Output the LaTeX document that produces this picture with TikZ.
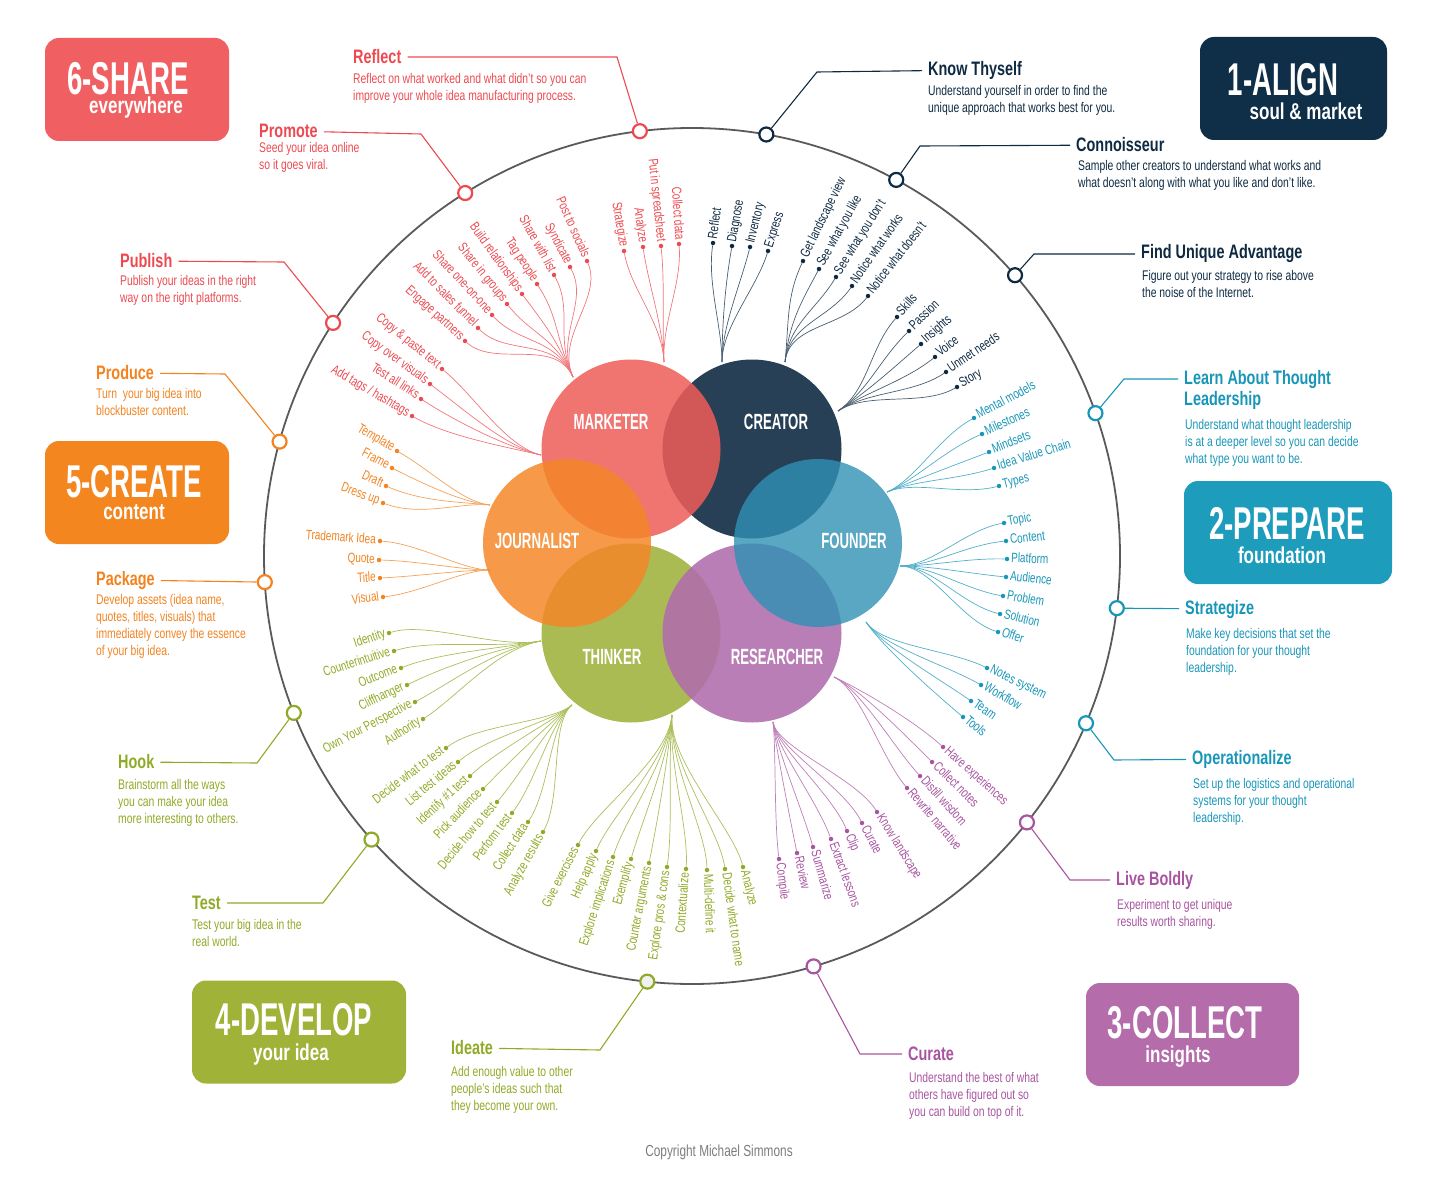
\documentclass[tikz,border=0pt]{standalone}
\usepackage{fontspec}
\setmainfont{Liberation Sans}[FakeStretch=0.74]
\newfontfamily\capsfont{Liberation Sans}[FakeStretch=0.6]
\usepackage{tikz}
\usetikzlibrary{calc}
\definecolor{redink}{RGB}{236,74,80}
\definecolor{navyink}{RGB}{14,42,66}
\definecolor{tealink}{RGB}{24,150,184}
\definecolor{purpleink}{RGB}{168,84,160}
\definecolor{greenink}{RGB}{143,170,38}
\definecolor{orangeink}{RGB}{242,131,32}
\definecolor{sharefill}{RGB}{240,96,98}
\definecolor{alignfill}{RGB}{14,47,71}
\definecolor{preparefill}{RGB}{30,156,188}
\definecolor{collectfill}{RGB}{180,108,170}
\definecolor{developfill}{RGB}{160,178,56}
\definecolor{createfill}{RGB}{244,134,32}
\definecolor{mkthub}{RGB}{238,93,89}
\definecolor{crthub}{RGB}{40,64,86}
\definecolor{jrnhub}{RGB}{244,135,40}
\definecolor{fndhub}{RGB}{47,145,180}
\definecolor{thkhub}{RGB}{169,187,82}
\definecolor{rschub}{RGB}{177,108,173}
\definecolor{ringgrey}{RGB}{90,90,90}
\definecolor{copygrey}{RGB}{125,125,125}

\begin{document}
\begin{tikzpicture}[x=1pt, y=-1pt,
  ring/.style={draw=ringgrey, line width=1.8pt},
  calldot/.style={circle, draw=#1, line width=2.2pt, fill=white, minimum size=14pt, inner sep=0pt},
  callline/.style={draw=#1, line width=1.1pt, shorten >=6pt},
  calltitle/.style={text=#1, font=\bfseries\fontsize{19.5}{21}\selectfont, inner sep=0pt},
  calldesc/.style={text=#1, font=\fontsize{14}{17}\selectfont, align=left, inner sep=0pt, anchor=north west},
  leafdot/.style={circle, fill=#1, minimum size=4.5pt, inner sep=0pt},
  leaflbl/.style={text=#1, font=\fontsize{13.5}{15}\selectfont, inner xsep=4pt, inner ysep=0pt, text height=9pt, text depth=2.5pt},
  twig/.style={draw=#1!75, line width=0.7pt},
  hub/.style={circle, fill=#1, minimum size=179pt, inner sep=0pt},
  hublbl/.style={text=white, font=\capsfont\bfseries\fontsize{22}{24}\selectfont},
  stagebox/.style={fill=#1, rounded corners=14pt, minimum height=103pt, inner sep=0pt},
  stagebig/.style={text=white, font=\capsfont\bfseries\fontsize{46}{46}\selectfont, inner sep=0pt},
  stagesub/.style={text=white, font=\bfseries\fontsize{23}{24}\selectfont, inner sep=0pt}
]
\useasboundingbox (0,0) rectangle (1456,1177);
\coordinate (ctr) at (692,556);
\draw[ring] (ctr) circle (428pt);

\node[stagebox=sharefill, minimum width=184pt] (share) at (137,89.5) {};
\node[stagebig] (sharebig) at (128,79) {6-SHARE};
\node[stagesub] (sharesub) at (136,108) {everywhere};
\node[stagebox=alignfill, minimum width=187pt] (align) at (1293.5,88.5) {};
\node[stagebig] (alignbig) at (1283,80) {1-ALIGN};
\node[stagesub] (alignsub) at (1306,111) {soul \& market};
\node[stagebox=createfill, minimum width=184pt] (create) at (137,492.5) {};
\node[stagebig] (createbig) at (134,482) {5-CREATE};
\node[stagesub] (createsub) at (134,512) {content};
\node[stagebox=preparefill, minimum width=208pt] (prepare) at (1288,532.5) {};
\node[stagebig] (preparebig) at (1287,523) {2-PREPARE};
\node[stagesub] (preparesub) at (1282,555) {foundation};
\node[stagebox=developfill, minimum width=214pt] (develop) at (299,1032) {};
\node[stagebig] (developbig) at (294,1020) {4-DEVELOP};
\node[stagesub] (developsub) at (291,1055) {your idea};
\node[stagebox=collectfill, minimum width=213pt] (collect) at (1192.5,1034.5) {};
\node[stagebig] (collectbig) at (1185,1023) {3-COLLECT};
\node[stagesub] (collectsub) at (1178,1057) {insights};

\node[calldot=redink] (rfdot) at ($(ctr)+(-97:428)$) {};
\coordinate (rfbend) at (617,57);
\node[calltitle=redink, anchor=west] (rf) at (353,57) {Reflect};
\node[calldesc=redink] (rfd) at (353,73) {Reflect on what worked and what didn’t so you can\\improve your whole idea manufacturing process.};
\draw[callline=redink] (rfdot) -- (rfbend) -- (rf);
\node[calldot=redink] (prdot) at ($(ctr)+(-122:428)$) {};
\coordinate (prbend) at (421,134);
\node[calltitle=redink, anchor=west] (pr) at (259,131) {Promote};
\node[calldesc=redink] (prd) at (259,142) {Seed your idea online\\so it goes viral.};
\draw[callline=redink] (prdot) -- (prbend) -- (pr);
\node[calldot=redink] (pbdot) at ($(ctr)+(-147:428)$) {};
\coordinate (pbbend) at (284,262);
\node[calltitle=redink, anchor=west] (pb) at (120,261) {Publish};
\node[calldesc=redink] (pbd) at (120,275) {Publish your ideas in the right\\way on the right platforms.};
\draw[callline=redink] (pbdot) -- (pbbend) -- (pb);
\node[calldot=orangeink] (pddot) at ($(ctr)+(-164.5:428)$) {};
\coordinate (pdbend) at (225,374);
\node[calltitle=orangeink, anchor=west] (pd) at (96,373) {Produce};
\node[calldesc=orangeink] (pdd) at (96,388) {Turn\ \ your big idea into\\blockbuster content.};
\draw[callline=orangeink] (pddot) -- (pdbend) -- (pd);
\node[calldot=orangeink] (pkdot) at ($(ctr)+(-183.5:428)$) {};
\node[calltitle=orangeink, anchor=west] (pk) at (96,580) {Package};
\node[calldesc=orangeink] (pkd) at (96,594) {Develop assets (idea name,\\quotes, titles, visuals) that\\immediately convey the essence\\of your big idea.};
\draw[callline=orangeink] (pkdot) -- (pk);
\node[calldot=greenink] (hkdot) at ($(ctr)+(-201.5:428)$) {};
\coordinate (hkbend) at (257,763);
\node[calltitle=greenink, anchor=west] (hk) at (118,762) {Hook};
\node[calldesc=greenink] (hkd) at (118,779) {Brainstorm all the ways\\you can make your idea\\more interesting to others.};
\draw[callline=greenink] (hkdot) -- (hkbend) -- (hk);
\node[calldot=greenink] (tsdot) at ($(ctr)+(-221.5:428)$) {};
\coordinate (tsbend) at (323,903);
\node[calltitle=greenink, anchor=west] (ts) at (192,903) {Test};
\node[calldesc=greenink] (tsd) at (192,919) {Test your big idea in the\\real world.};
\draw[callline=greenink] (tsdot) -- (tsbend) -- (ts);
\node[calldot=greenink, fill=black!6] (iddot) at ($(ctr)+(-264:428)$) {};
\coordinate (idbend) at (600,1050);
\node[calltitle=greenink, anchor=west] (id) at (451,1048) {Ideate};
\node[calldesc=greenink] (idd) at (451,1066) {Add enough value to other\\people’s ideas such that\\they become your own.};
\draw[callline=greenink] (iddot) -- (idbend) -- (id);
\node[calldot=purpleink] (cudot) at ($(ctr)+(-286.5:428)$) {};
\coordinate (cubend) at (860,1054);
\node[calltitle=purpleink, anchor=west] (cu) at (908,1054) {Curate};
\node[calldesc=purpleink] (cud) at (909,1072) {Understand the best of what\\others have figured out so\\you can build on top of it.};
\draw[callline=purpleink] (cudot) -- (cubend) -- (cu);
\node[calldot=purpleink] (lbdot) at ($(ctr)+(-321.5:428)$) {};
\coordinate (lbbend) at (1070,880);
\node[calltitle=purpleink, anchor=west] (lb) at (1116,880) {Live Boldly};
\node[calldesc=purpleink] (lbd) at (1117,899) {Experiment to get unique\\results worth sharing.};
\draw[callline=purpleink] (lbdot) -- (lbbend) -- (lb);
\node[calldot=tealink] (opdot) at ($(ctr)+(-337:428)$) {};
\coordinate (opbend) at (1114,760);
\node[calltitle=tealink, anchor=west] (op) at (1192,759) {Operationalize};
\node[calldesc=tealink] (opd) at (1193,778) {Set up the logistics and operational\\systems for your thought\\leadership.};
\draw[callline=tealink] (opdot) -- (opbend) -- (op);
\node[calldot=tealink] (sgdot) at ($(ctr)+(-353:428)$) {};
\node[calltitle=tealink, anchor=west] (sg) at (1185,609) {Strategize};
\node[calldesc=tealink] (sgd) at (1186,628) {Make key decisions that set the\\foundation for your thought\\leadership.};
\draw[callline=tealink] (sgdot) -- (sg);
\node[calldot=tealink] (ladot) at ($(ctr)+(-19.5:428)$) {};
\coordinate (labend) at (1124,379);
\node[calltitle=tealink, anchor=west] (la) at (1184,379) {Learn About Thought};
\node[calltitle=tealink, anchor=west] (la2) at (1184,400) {Leadership};
\node[calldesc=tealink] (lad) at (1185,419) {Understand what thought leadership\\is at a deeper level so you can decide\\what type you want to be.};
\draw[callline=tealink] (ladot) -- (labend) -- (la);
\node[calldot=navyink] (fudot) at ($(ctr)+(-41:428)$) {};
\coordinate (fubend) at (1034,254);
\node[calltitle=navyink, anchor=west] (fu) at (1141,254) {Find Unique Advantage};
\node[calldesc=navyink] (fud) at (1142,270) {Figure out your strategy to rise above\\the noise of the Internet.};
\draw[callline=navyink] (fudot) -- (fubend) -- (fu);
\node[calldot=navyink] (cndot) at ($(ctr)+(-61.5:428)$) {};
\coordinate (cnbend) at (920,146);
\node[calltitle=navyink, anchor=west] (cn) at (1076,145) {Connoisseur};
\node[calldesc=navyink] (cnd) at (1078,160) {Sample other creators to understand what works and\\what doesn’t along with what you like and don’t like.};
\draw[callline=navyink] (cndot) -- (cnbend) -- (cn);
\node[calldot=navyink] (ktdot) at ($(ctr)+(-80:428)$) {};
\coordinate (ktbend) at (817,72);
\node[calltitle=navyink, anchor=west] (kt) at (928,70) {Know Thyself};
\node[calldesc=navyink] (ktd) at (928,85) {Understand yourself in order to find the\\unique approach that works best for you.};
\draw[callline=navyink] (ktdot) -- (ktbend) -- (kt);

\coordinate (rA) at (573,377);
\node[leafdot=redink] (a1) at (587,261) {};
\node[leaflbl=redink, rotate=-66, anchor=east] (a1t) at (a1) {Post to socials};
\draw[twig=redink] (rA) .. controls +(-18,-40) and +(16,37) .. (a1);
\node[leafdot=redink] (a2) at (570,267) {};
\node[leaflbl=redink, rotate=-62, anchor=east] (a2t) at (a2) {Syndicate};
\draw[twig=redink] (rA) .. controls +(-18,-40) and +(19,35) .. (a2);
\node[leafdot=redink] (a3) at (554,275) {};
\node[leaflbl=redink, rotate=-61, anchor=east] (a3t) at (a3) {Share with list};
\draw[twig=redink] (rA) .. controls +(-18,-40) and +(19,35) .. (a3);
\node[leafdot=redink] (a4) at (537,284) {};
\node[leaflbl=redink, rotate=-57, anchor=east] (a4t) at (a4) {Tag people};
\draw[twig=redink] (rA) .. controls +(-18,-40) and +(22,34) .. (a4);
\node[leafdot=redink] (a5) at (522,294) {};
\node[leaflbl=redink, rotate=-54, anchor=east] (a5t) at (a5) {Build relationships};
\draw[twig=redink] (rA) .. controls +(-18,-40) and +(24,32) .. (a5);
\node[leafdot=redink] (a6) at (507,304) {};
\node[leaflbl=redink, rotate=-51, anchor=east] (a6t) at (a6) {Share in groups};
\draw[twig=redink] (rA) .. controls +(-18,-40) and +(25,31) .. (a6);
\node[leafdot=redink] (a7) at (492,315) {};
\node[leaflbl=redink, rotate=-47, anchor=east] (a7t) at (a7) {Share one-on-one};
\draw[twig=redink] (rA) .. controls +(-18,-40) and +(27,29) .. (a7);
\node[leafdot=redink] (a8) at (478,328) {};
\node[leaflbl=redink, rotate=-45, anchor=east] (a8t) at (a8) {Add to sales funnel};
\draw[twig=redink] (rA) .. controls +(-18,-40) and +(28,28) .. (a8);
\node[leafdot=redink] (a9) at (465,341) {};
\node[leaflbl=redink, rotate=-42, anchor=east] (a9t) at (a9) {Engage partners};
\draw[twig=redink] (rA) .. controls +(-18,-40) and +(30,27) .. (a9);

\coordinate (rB) at (664,362);
\node[leafdot=redink] (b1) at (624,251) {};
\node[leaflbl=redink, rotate=-80, anchor=east] (b1t) at (b1) {Strategize};
\draw[twig=redink] (rB) .. controls +(-2,-40) and +(7,39) .. (b1);
\node[leafdot=redink] (b2) at (643,247) {};
\node[leaflbl=redink, rotate=-82, anchor=east] (b2t) at (b2) {Analyze};
\draw[twig=redink] (rB) .. controls +(-2,-40) and +(6,40) .. (b2);
\node[leafdot=redink] (b3) at (661,246) {};
\node[leaflbl=redink, rotate=-84, anchor=east] (b3t) at (b3) {Put in spreadsheet};
\draw[twig=redink] (rB) .. controls +(-2,-40) and +(4,40) .. (b3);
\node[leafdot=redink] (b4) at (679,244) {};
\node[leaflbl=redink, rotate=-86, anchor=east] (b4t) at (b4) {Collect data};
\draw[twig=redink] (rB) .. controls +(-2,-40) and +(3,40) .. (b4);

\coordinate (rC) at (541,455);
\node[leafdot=redink] (c1) at (442,369) {};
\node[leaflbl=redink, rotate=-39, anchor=east] (c1t) at (c1) {Copy \& paste text};
\draw[twig=redink] (rC) .. controls +(-35,-8) and +(31,25) .. (c1);
\node[leafdot=redink] (c2) at (430,384) {};
\node[leaflbl=redink, rotate=-36, anchor=east] (c2t) at (c2) {Copy over visuals};
\draw[twig=redink] (rC) .. controls +(-35,-8) and +(32,24) .. (c2);
\node[leafdot=redink] (c3) at (421,399) {};
\node[leaflbl=redink, rotate=-33, anchor=east] (c3t) at (c3) {Test all links};
\draw[twig=redink] (rC) .. controls +(-35,-8) and +(34,22) .. (c3);
\node[leafdot=redink] (c4) at (412,416) {};
\node[leaflbl=redink, rotate=-30, anchor=east] (c4t) at (c4) {Add tags / hashtags};
\draw[twig=redink] (rC) .. controls +(-35,-8) and +(35,20) .. (c4);

\coordinate (rD) at (722,362);
\node[leafdot=navyink] (d1) at (713,243) {};
\node[leaflbl=navyink, rotate=82, anchor=west] (d1t) at (d1) {Reflect};
\draw[twig=navyink] (rD) .. controls +(0,-35) and +(-6,40) .. (d1);
\node[leafdot=navyink] (d2) at (732,246) {};
\node[leaflbl=navyink, rotate=80, anchor=west] (d2t) at (d2) {Diagnose};
\draw[twig=navyink] (rD) .. controls +(0,-35) and +(-7,39) .. (d2);
\node[leafdot=navyink] (d3) at (750,247) {};
\node[leaflbl=navyink, rotate=76, anchor=west] (d3t) at (d3) {Inventory};
\draw[twig=navyink] (rD) .. controls +(0,-35) and +(-10,39) .. (d3);
\node[leafdot=navyink] (d4) at (768,251) {};
\node[leaflbl=navyink, rotate=72, anchor=west] (d4t) at (d4) {Express};
\draw[twig=navyink] (rD) .. controls +(0,-35) and +(-12,38) .. (d4);

\coordinate (rE) at (785,362);
\node[leafdot=navyink] (e1) at (803,261) {};
\node[leaflbl=navyink, rotate=64, anchor=west] (e1t) at (e1) {Get landscape view};
\draw[twig=navyink] (rE) .. controls +(4,-38) and +(-17,36) .. (e1);
\node[leafdot=navyink] (e2) at (819,269) {};
\node[leaflbl=navyink, rotate=61, anchor=west] (e2t) at (e2) {See what you like};
\draw[twig=navyink] (rE) .. controls +(4,-38) and +(-19,35) .. (e2);
\node[leafdot=navyink] (e3) at (836,277) {};
\node[leaflbl=navyink, rotate=58, anchor=west] (e3t) at (e3) {See what you don’t};
\draw[twig=navyink] (rE) .. controls +(4,-38) and +(-21,34) .. (e3);
\node[leafdot=navyink] (e4) at (852,286) {};
\node[leaflbl=navyink, rotate=55, anchor=west] (e4t) at (e4) {Notice what works};
\draw[twig=navyink] (rE) .. controls +(4,-38) and +(-23,33) .. (e4);
\node[leafdot=navyink] (e5) at (868,296) {};
\node[leaflbl=navyink, rotate=52, anchor=west] (e5t) at (e5) {Notice what doesn’t};
\draw[twig=navyink] (rE) .. controls +(4,-38) and +(-25,32) .. (e5);

\coordinate (rF) at (838,411);
\node[leafdot=navyink] (f1) at (897,317) {};
\node[leaflbl=navyink, rotate=48, anchor=west] (f1t) at (f1) {Skills};
\draw[twig=navyink] (rF) .. controls +(30,-20) and +(-27,30) .. (f1);
\node[leafdot=navyink] (f2) at (909,331) {};
\node[leaflbl=navyink, rotate=44, anchor=west] (f2t) at (f2) {Passion};
\draw[twig=navyink] (rF) .. controls +(30,-20) and +(-29,28) .. (f2);
\node[leafdot=navyink] (f3) at (921,344) {};
\node[leaflbl=navyink, rotate=41, anchor=west] (f3t) at (f3) {Insights};
\draw[twig=navyink] (rF) .. controls +(30,-20) and +(-30,26) .. (f3);
\node[leafdot=navyink] (f4) at (935,357) {};
\node[leaflbl=navyink, rotate=38, anchor=west] (f4t) at (f4) {Voice};
\draw[twig=navyink] (rF) .. controls +(30,-20) and +(-32,25) .. (f4);
\node[leafdot=navyink] (f5) at (946,372) {};
\node[leaflbl=navyink, rotate=34, anchor=west] (f5t) at (f5) {Unmet needs};
\draw[twig=navyink] (rF) .. controls +(30,-20) and +(-33,22) .. (f5);
\node[leafdot=navyink] (f6) at (957,387) {};
\node[leaflbl=navyink, rotate=30, anchor=west] (f6t) at (f6) {Story};
\draw[twig=navyink] (rF) .. controls +(30,-20) and +(-35,20) .. (f6);

\coordinate (rG) at (887,492);
\node[leafdot=tealink] (g1) at (974,418) {};
\node[leaflbl=tealink, rotate=28, anchor=west] (g1t) at (g1) {Mental models};
\draw[twig=tealink] (rG) .. controls +(28,-12) and +(-35,19) .. (g1);
\node[leafdot=tealink] (g2) at (982,434) {};
\node[leaflbl=tealink, rotate=24, anchor=west] (g2t) at (g2) {Milestones};
\draw[twig=tealink] (rG) .. controls +(28,-12) and +(-37,16) .. (g2);
\node[leafdot=tealink] (g3) at (989,452) {};
\node[leaflbl=tealink, rotate=21, anchor=west] (g3t) at (g3) {Mindsets};
\draw[twig=tealink] (rG) .. controls +(28,-12) and +(-37,14) .. (g3);
\node[leafdot=tealink] (g4) at (994,468) {};
\node[leaflbl=tealink, rotate=17, anchor=west] (g4t) at (g4) {Idea Value Chain};
\draw[twig=tealink] (rG) .. controls +(28,-12) and +(-38,12) .. (g4);
\node[leafdot=tealink] (g5) at (999,486) {};
\node[leaflbl=tealink, rotate=14, anchor=west] (g5t) at (g5) {Types};
\draw[twig=tealink] (rG) .. controls +(28,-12) and +(-39,10) .. (g5);

\coordinate (rH) at (900,566);
\node[leafdot=tealink] (h1) at (1004,523) {};
\node[leaflbl=tealink, rotate=10, anchor=west] (h1t) at (h1) {Topic};
\draw[twig=tealink] (rH) .. controls +(32,0) and +(-39,7) .. (h1);
\node[leafdot=tealink] (h2) at (1006,541) {};
\node[leaflbl=tealink, rotate=6, anchor=west] (h2t) at (h2) {Content};
\draw[twig=tealink] (rH) .. controls +(32,0) and +(-40,4) .. (h2);
\node[leafdot=tealink] (h3) at (1007,559) {};
\node[leaflbl=tealink, rotate=-2, anchor=west] (h3t) at (h3) {Platform};
\draw[twig=tealink] (rH) .. controls +(32,0) and +(-40,-1) .. (h3);
\node[leafdot=tealink] (h4) at (1006,577) {};
\node[leaflbl=tealink, rotate=-6, anchor=west] (h4t) at (h4) {Audience};
\draw[twig=tealink] (rH) .. controls +(32,0) and +(-40,-4) .. (h4);
\node[leafdot=tealink] (h5) at (1003,596) {};
\node[leaflbl=tealink, rotate=-10, anchor=west] (h5t) at (h5) {Problem};
\draw[twig=tealink] (rH) .. controls +(32,0) and +(-39,-7) .. (h5);
\node[leafdot=tealink] (h6) at (1000,614) {};
\node[leaflbl=tealink, rotate=-14, anchor=west] (h6t) at (h6) {Solution};
\draw[twig=tealink] (rH) .. controls +(32,0) and +(-39,-10) .. (h6);
\node[leafdot=tealink] (h7) at (998,632) {};
\node[leaflbl=tealink, rotate=-18, anchor=west] (h7t) at (h7) {Offer};
\draw[twig=tealink] (rH) .. controls +(32,0) and +(-38,-12) .. (h7);

\coordinate (rI) at (866,622);
\node[leafdot=tealink] (i1) at (987,668) {};
\node[leaflbl=tealink, rotate=-26, anchor=west] (i1t) at (i1) {Notes system};
\draw[twig=tealink] (rI) .. controls +(16,24) and +(-36,-18) .. (i1);
\node[leafdot=tealink] (i2) at (981,685) {};
\node[leaflbl=tealink, rotate=-30, anchor=west] (i2t) at (i2) {Workflow};
\draw[twig=tealink] (rI) .. controls +(16,24) and +(-35,-20) .. (i2);
\node[leafdot=tealink] (i3) at (971,701) {};
\node[leaflbl=tealink, rotate=-35, anchor=west] (i3t) at (i3) {Team};
\draw[twig=tealink] (rI) .. controls +(16,24) and +(-33,-23) .. (i3);
\node[leafdot=tealink] (i4) at (963,717) {};
\node[leaflbl=tealink, rotate=-40, anchor=west] (i4t) at (i4) {Tools};
\draw[twig=tealink] (rI) .. controls +(16,24) and +(-31,-26) .. (i4);

\coordinate (rJ) at (834,677);
\node[leafdot=purpleink] (j1) at (943,747) {};
\node[leaflbl=purpleink, rotate=-42, anchor=west] (j1t) at (j1) {Have experiences};
\draw[twig=purpleink] (rJ) .. controls +(26,12) and +(-30,-27) .. (j1);
\node[leafdot=purpleink] (j2) at (932,762) {};
\node[leaflbl=purpleink, rotate=-45, anchor=west] (j2t) at (j2) {Collect notes};
\draw[twig=purpleink] (rJ) .. controls +(26,12) and +(-28,-28) .. (j2);
\node[leafdot=purpleink] (j3) at (920,776) {};
\node[leaflbl=purpleink, rotate=-48, anchor=west] (j3t) at (j3) {Distill wisdom};
\draw[twig=purpleink] (rJ) .. controls +(26,12) and +(-27,-30) .. (j3);
\node[leafdot=purpleink] (j4) at (907,788) {};
\node[leaflbl=purpleink, rotate=-50, anchor=west] (j4t) at (j4) {Rewrite narrative};
\draw[twig=purpleink] (rJ) .. controls +(26,12) and +(-26,-31) .. (j4);

\coordinate (rK) at (773,722);
\node[leafdot=purpleink] (k1) at (877,812) {};
\node[leaflbl=purpleink, rotate=-58, anchor=west] (k1t) at (k1) {Know landscape};
\draw[twig=purpleink] (rK) .. controls +(3,25) and +(-21,-34) .. (k1);
\node[leafdot=purpleink] (k2) at (862,823) {};
\node[leaflbl=purpleink, rotate=-63, anchor=west] (k2t) at (k2) {Curate};
\draw[twig=purpleink] (rK) .. controls +(3,25) and +(-18,-36) .. (k2);
\node[leafdot=purpleink] (k3) at (847,831) {};
\node[leaflbl=purpleink, rotate=-68, anchor=west] (k3t) at (k3) {Clip};
\draw[twig=purpleink] (rK) .. controls +(3,25) and +(-15,-37) .. (k3);
\node[leafdot=purpleink] (k4) at (831,839) {};
\node[leaflbl=purpleink, rotate=-70, anchor=west] (k4t) at (k4) {Extract lessons};
\draw[twig=purpleink] (rK) .. controls +(3,25) and +(-14,-38) .. (k4);
\node[leafdot=purpleink] (k5) at (813,847) {};
\node[leaflbl=purpleink, rotate=-74, anchor=west] (k5t) at (k5) {Summarize};
\draw[twig=purpleink] (rK) .. controls +(3,25) and +(-11,-38) .. (k5);
\node[leafdot=purpleink] (k6) at (797,853) {};
\node[leaflbl=purpleink, rotate=-78, anchor=west] (k6t) at (k6) {Review};
\draw[twig=purpleink] (rK) .. controls +(3,25) and +(-8,-39) .. (k6);
\node[leafdot=purpleink] (k7) at (779,859) {};
\node[leaflbl=purpleink, rotate=-83, anchor=west] (k7t) at (k7) {Compile};
\draw[twig=purpleink] (rK) .. controls +(3,25) and +(-5,-40) .. (k7);

\coordinate (rL) at (541,641);
\node[leafdot=greenink] (l1) at (389,633) {};
\node[leaflbl=greenink, rotate=18, anchor=east] (l1t) at (l1) {Identity};
\draw[twig=greenink] (rL) .. controls +(-45,8) and +(38,-12) .. (l1);
\node[leafdot=greenink] (l2) at (394,651) {};
\node[leaflbl=greenink, rotate=18, anchor=east] (l2t) at (l2) {Counterintuitive};
\draw[twig=greenink] (rL) .. controls +(-45,8) and +(38,-12) .. (l2);
\node[leafdot=greenink] (l3) at (401,668) {};
\node[leaflbl=greenink, rotate=22, anchor=east] (l3t) at (l3) {Outcome};
\draw[twig=greenink] (rL) .. controls +(-45,8) and +(37,-15) .. (l3);
\node[leafdot=greenink] (l4) at (407,685) {};
\node[leaflbl=greenink, rotate=26, anchor=east] (l4t) at (l4) {Cliffhanger};
\draw[twig=greenink] (rL) .. controls +(-45,8) and +(36,-18) .. (l4);
\node[leafdot=greenink] (l5) at (415,702) {};
\node[leaflbl=greenink, rotate=28, anchor=east] (l5t) at (l5) {Own Your Perspective};
\draw[twig=greenink] (rL) .. controls +(-45,8) and +(35,-19) .. (l5);
\node[leafdot=greenink] (l6) at (423,719) {};
\node[leaflbl=greenink, rotate=33, anchor=east] (l6t) at (l6) {Authority};
\draw[twig=greenink] (rL) .. controls +(-45,8) and +(34,-22) .. (l6);

\coordinate (rM) at (572,705);
\node[leafdot=greenink] (m1) at (446,748) {};
\node[leaflbl=greenink, rotate=37, anchor=east] (m1t) at (m1) {Decide what to test};
\draw[twig=greenink] (rM) .. controls +(-22,18) and +(32,-24) .. (m1);
\node[leafdot=greenink] (m2) at (458,762) {};
\node[leaflbl=greenink, rotate=40, anchor=east] (m2t) at (m2) {List test ideas};
\draw[twig=greenink] (rM) .. controls +(-22,18) and +(31,-26) .. (m2);
\node[leafdot=greenink] (m3) at (470,776) {};
\node[leaflbl=greenink, rotate=43, anchor=east] (m3t) at (m3) {Identify \#1 test};
\draw[twig=greenink] (rM) .. controls +(-22,18) and +(29,-27) .. (m3);
\node[leafdot=greenink] (m4) at (483,789) {};
\node[leaflbl=greenink, rotate=46, anchor=east] (m4t) at (m4) {Pick audience};
\draw[twig=greenink] (rM) .. controls +(-22,18) and +(28,-29) .. (m4);
\node[leafdot=greenink] (m5) at (497,802) {};
\node[leaflbl=greenink, rotate=50, anchor=east] (m5t) at (m5) {Decide how to test};
\draw[twig=greenink] (rM) .. controls +(-22,18) and +(26,-31) .. (m5);
\node[leafdot=greenink] (m6) at (512,813) {};
\node[leaflbl=greenink, rotate=53, anchor=east] (m6t) at (m6) {Perform test};
\draw[twig=greenink] (rM) .. controls +(-22,18) and +(24,-32) .. (m6);
\node[leafdot=greenink] (m7) at (528,822) {};
\node[leaflbl=greenink, rotate=57, anchor=east] (m7t) at (m7) {Collect data};
\draw[twig=greenink] (rM) .. controls +(-22,18) and +(22,-34) .. (m7);
\node[leafdot=greenink] (m8) at (543,832) {};
\node[leaflbl=greenink, rotate=61, anchor=east] (m8t) at (m8) {Analyze results};
\draw[twig=greenink] (rM) .. controls +(-22,18) and +(19,-35) .. (m8);

\coordinate (rN) at (672,715);
\node[leafdot=greenink] (n1) at (578,845) {};
\node[leaflbl=greenink, rotate=63, anchor=east] (n1t) at (n1) {Give exercises};
\draw[twig=greenink] (rN) .. controls +(-4,45) and +(18,-36) .. (n1);
\node[leafdot=greenink] (n2) at (596,851) {};
\node[leaflbl=greenink, rotate=67, anchor=east] (n2t) at (n2) {Help apply};
\draw[twig=greenink] (rN) .. controls +(-4,45) and +(16,-37) .. (n2);
\node[leafdot=greenink] (n3) at (613,857) {};
\node[leaflbl=greenink, rotate=72, anchor=east] (n3t) at (n3) {Explore implications};
\draw[twig=greenink] (rN) .. controls +(-4,45) and +(12,-38) .. (n3);
\node[leafdot=greenink] (n4) at (631,859) {};
\node[leaflbl=greenink, rotate=74, anchor=east] (n4t) at (n4) {Exemplify};
\draw[twig=greenink] (rN) .. controls +(-4,45) and +(11,-38) .. (n4);
\node[leafdot=greenink] (n5) at (649,863) {};
\node[leaflbl=greenink, rotate=79, anchor=east] (n5t) at (n5) {Counter arguments};
\draw[twig=greenink] (rN) .. controls +(-4,45) and +(8,-39) .. (n5);
\node[leafdot=greenink] (n6) at (667,867) {};
\node[leaflbl=greenink, rotate=82, anchor=east] (n6t) at (n6) {Explore pros \& cons};
\draw[twig=greenink] (rN) .. controls +(-4,45) and +(6,-40) .. (n6);
\node[leafdot=greenink] (n7) at (686,869) {};
\node[leaflbl=greenink, rotate=86, anchor=east] (n7t) at (n7) {Contextualize};
\draw[twig=greenink] (rN) .. controls +(-4,45) and +(3,-40) .. (n7);
\node[leafdot=greenink] (n8) at (707,870) {};
\node[leaflbl=greenink, rotate=-88, anchor=west] (n8t) at (n8) {Multi-define it};
\draw[twig=greenink] (rN) .. controls +(-4,45) and +(-1,-40) .. (n8);
\node[leafdot=greenink] (n9) at (725,869) {};
\node[leaflbl=greenink, rotate=-82, anchor=west] (n9t) at (n9) {Decide what to name};
\draw[twig=greenink] (rN) .. controls +(-4,45) and +(-6,-40) .. (n9);
\node[leafdot=greenink] (n10) at (743,867) {};
\node[leaflbl=greenink, rotate=-76, anchor=west] (n10t) at (n10) {Analyze};
\draw[twig=greenink] (rN) .. controls +(-4,45) and +(-10,-39) .. (n10);

\coordinate (rO) at (490,505);
\node[leafdot=orangeink] (o1) at (397,451) {};
\node[leaflbl=orangeink, rotate=-30, anchor=east] (o1t) at (o1) {Template};
\draw[twig=orangeink] (rO) .. controls +(-28,-3) and +(35,20) .. (o1);
\node[leafdot=orangeink] (o2) at (392,468) {};
\node[leaflbl=orangeink, rotate=-27, anchor=east] (o2t) at (o2) {Frame};
\draw[twig=orangeink] (rO) .. controls +(-28,-3) and +(36,18) .. (o2);
\node[leafdot=orangeink] (o3) at (386,486) {};
\node[leaflbl=orangeink, rotate=-24, anchor=east] (o3t) at (o3) {Draft};
\draw[twig=orangeink] (rO) .. controls +(-28,-3) and +(37,16) .. (o3);
\node[leafdot=orangeink] (o4) at (383,503) {};
\node[leaflbl=orangeink, rotate=-20, anchor=east] (o4t) at (o4) {Dress up};
\draw[twig=orangeink] (rO) .. controls +(-28,-3) and +(38,14) .. (o4);

\coordinate (rP) at (490,570);
\node[leafdot=orangeink] (p1) at (380,541) {};
\node[leaflbl=orangeink, rotate=-4, anchor=east] (p1t) at (p1) {Trademark Idea};
\draw[twig=orangeink] (rP) .. controls +(-28,0) and +(40,3) .. (p1);
\node[leafdot=orangeink] (p2) at (379,560) {};
\node[leaflbl=orangeink, rotate=-1, anchor=east] (p2t) at (p2) {Quote};
\draw[twig=orangeink] (rP) .. controls +(-28,0) and +(40,1) .. (p2);
\node[leafdot=orangeink] (p3) at (380,578) {};
\node[leaflbl=orangeink, rotate=3, anchor=east] (p3t) at (p3) {Title};
\draw[twig=orangeink] (rP) .. controls +(-28,0) and +(40,-2) .. (p3);
\node[leafdot=orangeink] (p4) at (383,597) {};
\node[leaflbl=orangeink, rotate=7, anchor=east] (p4t) at (p4) {Visual};
\draw[twig=orangeink] (rP) .. controls +(-28,0) and +(40,-5) .. (p4);

\node[hub=crthub] (creator) at (752,449) {};
\node[hub=mkthub, fill opacity=0.86] (marketer) at (631,449) {};
\node[hub=thkhub] (thinker) at (631,633) {};
\node[hub=rschub, fill opacity=0.88] (researcher) at (752,633) {};
\node[hub=jrnhub, fill opacity=0.85, minimum size=168pt] (journalist) at (567,543) {};
\node[hub=fndhub, fill opacity=0.8, minimum size=168pt] (founder) at (818,543) {};
\node[hublbl] (marketerl) at (611,422) {MARKETER};
\node[hublbl] (creatorl) at (776,422) {CREATOR};
\node[hublbl] (journalistl) at (537,541) {JOURNALIST};
\node[hublbl] (founderl) at (854,541) {FOUNDER};
\node[hublbl] (thinkerl) at (612,657) {THINKER};
\node[hublbl] (researcherl) at (777,657) {RESEARCHER};

\node[text=copygrey, font=\fontsize{16}{18}\selectfont] (copy) at (719,1152) {Copyright Michael Simmons};
\end{tikzpicture}
\end{document}
